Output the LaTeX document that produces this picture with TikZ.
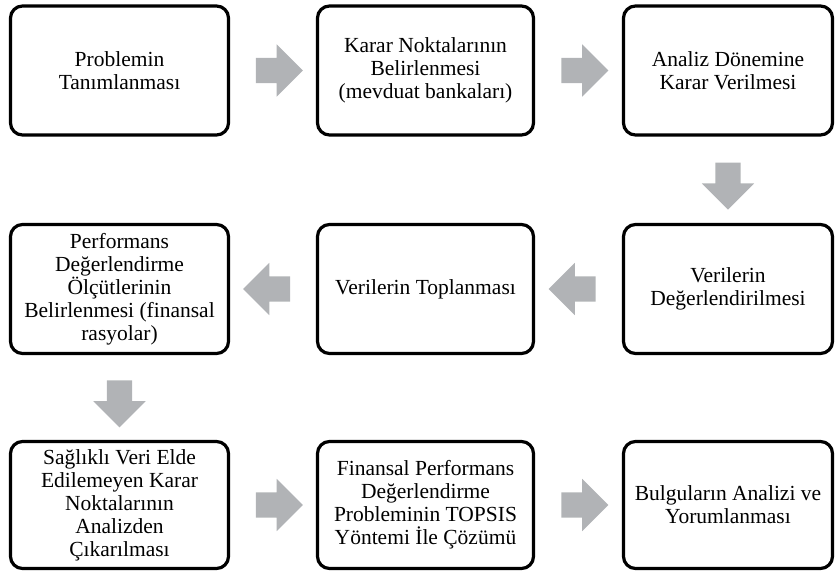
\documentclass[tikz,border=0pt]{standalone}
\usepackage{fontspec}
\setmainfont{Liberation Serif}
\usetikzlibrary{shapes.arrows,calc}
\definecolor{arrowgray}{RGB}{177,179,182}
\tikzset{
  stepbox/.style={draw=black,line width=3.2pt,rounded corners=12pt,align=center,
    minimum height=129pt,inner sep=2pt,font=\fontsize{21.5}{23}\selectfont},
  blockarrow/.style={single arrow,fill=arrowgray,draw=none,inner sep=12.5pt,
    minimum height=47pt,single arrow head extend=13.5pt},
}
\begin{document}
\begin{tikzpicture}[x=1pt,y=-1pt]
\useasboundingbox (0,0) rectangle (836,577);
\node[stepbox,minimum width=218pt] (problem) at (119.5,70.5) {Problemin\\Tanımlanması};
\node[stepbox,minimum width=216pt] (karar) at (425.5,70.5) {Karar Noktalarının\\Belirlenmesi\\(mevduat bankaları)};
\node[stepbox,minimum width=209pt] (donem) at (728,70.5) {Analiz Dönemine\\Karar Verilmesi};
\node[stepbox,minimum width=209pt] (degerlendirme) at (728,289) {Verilerin\\Değerlendirilmesi};
\node[stepbox,minimum width=216pt] (toplama) at (425.5,289) {Verilerin Toplanması};
\node[stepbox,minimum width=218pt] (olcut) at (119.5,289) {Performans\\Değerlendirme\\Ölçütlerinin\\Belirlenmesi (finansal\\rasyolar)};
\node[stepbox,minimum width=218pt,minimum height=127pt] (eleme) at (119.5,505) {Sağlıklı Veri Elde\\Edilemeyen Karar\\Noktalarının\\Analizden\\Çıkarılması};
\node[stepbox,minimum width=216pt,minimum height=127pt] (topsis) at (425.5,505) {Finansal Performans\\Değerlendirme\\Probleminin TOPSIS\\Yöntemi İle Çözümü};
\node[stepbox,minimum width=209pt,minimum height=127pt] (bulgu) at (728,505) {Bulguların Analizi ve\\Yorumlanması};
\node[blockarrow] (a1) at ($(problem.east)!0.5!(karar.west)$) {};
\node[blockarrow] (a2) at ($(karar.east)!0.5!(donem.west)$) {};
\node[blockarrow,shape border rotate=270] (a3) at ($(donem.south)!0.5!(degerlendirme.north)$) {};
\node[blockarrow,shape border rotate=180] (a4) at ($(degerlendirme.west)!0.5!(toplama.east)$) {};
\node[blockarrow,shape border rotate=180] (a5) at ($(toplama.west)!0.5!(olcut.east)$) {};
\node[blockarrow,shape border rotate=270] (a6) at ($(olcut.south)!0.5!(eleme.north)$) {};
\node[blockarrow] (a7) at ($(eleme.east)!0.5!(topsis.west)$) {};
\node[blockarrow] (a8) at ($(topsis.east)!0.5!(bulgu.west)$) {};
\end{tikzpicture}
\end{document}
